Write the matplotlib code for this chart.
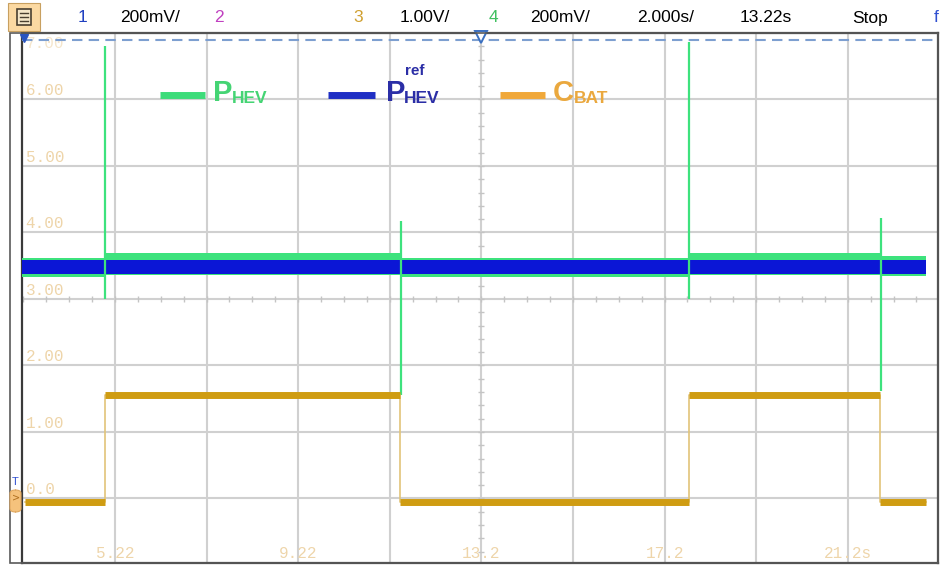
import numpy as np
import matplotlib.pyplot as plt
from matplotlib.lines import Line2D
from matplotlib.patches import Rectangle, FancyBboxPatch

# scope screen: 10 div x 2.000 s, 8 div x 1.00 V
t_left, t_right = 3.19, 23.19
v_bottom, v_top = -0.97, 6.97
t_center = 13.22
v_center = 3.0
t_grid = [5.22, 7.22, 9.22, 11.22, 13.22, 15.22, 17.22, 19.22, 21.22]
t_label_pos = [5.22, 9.22, 13.22, 17.22, 21.22]
t_labels = ['5.22', '9.22', '13.2', '17.2', '21.2s']
v_grid = [0, 1, 2, 3, 4, 5, 6, 7]
v_labels = ['0.0', '1.00', '2.00', '3.00', '4.00', '5.00', '6.00', '7.00']

# C_BAT square wave (corner points)
cbat_t = [3.26, 5.00, 5.00, 11.45, 11.45, 17.76, 17.76, 21.93, 21.93, 22.92]
cbat_v = [-0.06, -0.06, 1.55, 1.55, -0.06, -0.06, 1.55, 1.55, -0.06, -0.06]

# P_HEV noise band, one level per switching interval
phev_t = [3.19, 5.00, 11.45, 17.76, 21.93, 22.92]
phev_hi = [3.62, 3.69, 3.62, 3.69, 3.65, 3.65]
phev_lo = [3.33, 3.36, 3.33, 3.36, 3.35, 3.35]

# P_HEV switching spikes
spike_t = [5.00, 11.47, 17.76, 21.95]
spike_top = [6.80, 4.18, 6.87, 4.22]
spike_bot = [3.00, 1.55, 3.00, 1.62]

# P_HEV reference band
pref_t = [3.19, 22.92]
pref_hi = [3.59, 3.59]
pref_lo = [3.37, 3.37]

trig_level = 6.90

green = '#3de27d'
blue = '#0b16d6'
gold = '#cf9c12'
label_col = '#eed5aa'

W, H = 943, 566
fig = plt.figure(figsize=(W / 100, H / 100), dpi=100)
ax = fig.add_axes([22 / W, 3 / H, 916 / W, 530 / H])
ax.set_xlim(t_left, t_right)
ax.set_ylim(v_bottom, v_top)

ax.set_xticks(t_grid)
ax.set_yticks(v_grid)
ax.grid(color='#d0d0d0', lw=1.5)
ax.set_axisbelow(True)
ax.tick_params(length=0, labelbottom=False, labelleft=False)
for s in ax.spines.values():
    s.set_color('#3a3a3a')
    s.set_linewidth(1.6)

# minor ticks on the centre cross
t_minor = np.arange(t_left + 0.03, t_right, 0.5)
ax.plot(t_minor, np.full(len(t_minor), v_center), ls='none', marker='|',
        ms=5, color='#c4c4c4', zorder=1)
v_minor = np.arange(-0.8, 7.0, 0.2)
ax.plot(np.full(len(v_minor), t_center), v_minor, ls='none', marker='_',
        ms=5, color='#c4c4c4', zorder=1)

# scale labels inside the graticule
for v, lab in zip(v_grid, v_labels):
    if v >= v_top:
        ax.text(0.004, v_top - 0.02, lab, transform=ax.get_yaxis_transform(),
                family='Liberation Mono', fontsize=11.5, color=label_col,
                ha='left', va='top', alpha=0.6)
    else:
        ax.text(0.004, v + 0.02, lab, transform=ax.get_yaxis_transform(),
                family='Liberation Mono', fontsize=11.5, color=label_col,
                ha='left', va='bottom')
for t, lab in zip(t_label_pos, t_labels):
    ax.text(t, v_bottom + 0.03, lab, family='Liberation Mono', fontsize=11.5,
            color=label_col, ha='center', va='bottom')

# traces
ax.fill_between(phev_t, phev_lo, phev_hi, step='post', color=green, lw=0, zorder=3)
ax.fill_between(pref_t, pref_lo, pref_hi, color=blue, lw=0, zorder=4)
ax.vlines(spike_t, spike_bot, spike_top, color=green, lw=1.6, zorder=5)
ax.plot(cbat_t, cbat_v, color='#e2c479', lw=1.2, zorder=6)
for i in range(0, len(cbat_t), 2):
    ax.plot(cbat_t[i:i + 2], cbat_v[i:i + 2], color=gold, lw=5,
            solid_capstyle='butt', zorder=7)

# trigger level and position
ax.axhline(trig_level, color='#7d9fd0', lw=1.5, ls=(0, (5, 3)), zorder=8)
ax.plot([t_center], [v_top - 0.03], marker='v', mfc='white', mec='#3a6fc0',
        mew=1.4, ms=9, clip_on=False, zorder=9)
ax.plot([t_left + 0.05], [v_top - 0.05], marker='v', color='#2a55c0',
        ms=6, clip_on=False, zorder=9)

# legend
def key(x0, x1, col):
    ax.add_line(Line2D([x0, x1], [0.883, 0.883], transform=ax.transAxes,
                       color=col, lw=5, solid_capstyle='butt'))

key(0.151, 0.200, '#3ddc7a')
ax.text(0.2085, 0.872, 'P', transform=ax.transAxes, fontsize=21,
        family='Liberation Sans', weight='bold', color='#45d474')
ax.text(0.2290, 0.868, 'HEV', transform=ax.transAxes, fontsize=12.5,
        family='Liberation Sans', weight='bold', color='#45d474')
key(0.334, 0.385, '#1f2fc4')
ax.text(0.3974, 0.872, 'P', transform=ax.transAxes, fontsize=21,
        family='Liberation Sans', weight='bold', color='#2b2ea6')
ax.text(0.4170, 0.868, 'HEV', transform=ax.transAxes, fontsize=12.5,
        family='Liberation Sans', weight='bold', color='#2b2ea6')
ax.text(0.418, 0.921, 'ref', transform=ax.transAxes, fontsize=11,
        family='Liberation Sans', weight='bold', color='#2b2ea6')
key(0.522, 0.571, '#f0a83a')
ax.text(0.5797, 0.872, 'C', transform=ax.transAxes, fontsize=21,
        family='Liberation Sans', weight='bold', color='#eaa83e')
ax.text(0.6030, 0.868, 'BAT', transform=ax.transAxes, fontsize=12.5,
        family='Liberation Sans', weight='bold', color='#eaa83e')

# outer frame and left marker strip
fig.add_artist(Rectangle((10 / W, 3 / H), 928 / W, 530 / H, transform=fig.transFigure,
                         fill=False, ec='#5a5a5a', lw=1.2))
fig.text(15 / W, 1 - 482 / H, 'T', color='#3050d0', fontsize=8,
         ha='center', va='center', family='Liberation Sans')
fig.add_artist(FancyBboxPatch((10 / W, 1 - 512 / H), 11 / W, 22 / H,
                              boxstyle='round,pad=0,rounding_size=0.006',
                              transform=fig.transFigure, fc='#f5c27c', ec='#e0a860', lw=0.8))
fig.text(16 / W, 1 - 498 / H, '>', color='#b07020', fontsize=7,
         ha='center', va='center', family='DejaVu Sans')

# status bar
fig.add_artist(Rectangle((8 / W, 1 - 31 / H), 32 / W, 28 / H, transform=fig.transFigure,
                         fc='#fbd9a2', ec='#c8a060', lw=0.8))
fig.add_artist(Rectangle((17 / W, 1 - 25 / H), 14 / W, 16 / H, transform=fig.transFigure,
                         fc='#f4e6c8', ec='#4a4030', lw=1.2))
for yy in (13, 17, 21):
    fig.add_artist(Line2D([20 / W, 28 / W], [1 - yy / H, 1 - yy / H],
                          transform=fig.transFigure, color='#4a4030', lw=1))

bar_y = 1 - 18 / H
bar_items = [(78, '1', '#2040c0'), (120, '200mV/', 'black'), (214, '2', '#c040c0'),
             (353, '3', '#d0a030'), (400, '1.00V/', 'black'), (489, '4', '#40c060'),
             (530, '200mV/', 'black'), (637, '2.000s/', 'black'),
             (740, '13.22s', 'black'), (852, 'Stop', 'black'), (934, 'f', '#3050d0')]
for x, s, c in bar_items:
    fig.text(x / W, bar_y, s, color=c, fontsize=12.5, family='Liberation Sans',
             ha='left', va='center')

fig.savefig('out.png', dpi=100)
